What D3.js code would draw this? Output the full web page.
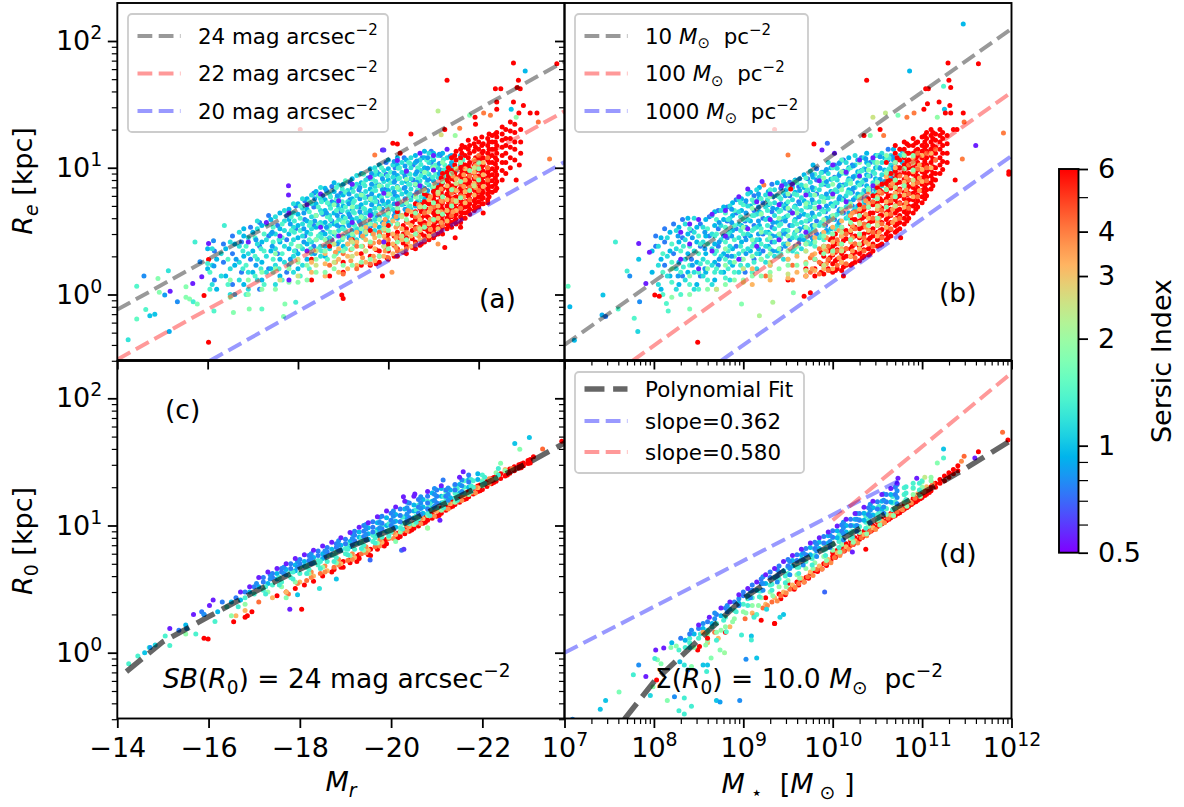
<!DOCTYPE html>
<html>
<head>
<meta charset="utf-8">
<script src="https://cdn.jsdelivr.net/npm/d3@7"></script>
<style>
body { margin: 0; background: #fff; }
text { font-family: "DejaVu Sans", sans-serif; fill: #000; }
</style>
</head>
<body>
<div id="chart"></div>
<script>
// point clouds: each row is [x, R, R, R...] for one Sersic index group
// x is M_r in the left panels and log10(M*) in the right panels

const aPurple = [[-16.9,2.6],[-17.3,3.7],[-17.6,2.9],[-17.8,1.3,4.4],[-18.2,2.2,5.1],[-18.5,3.4,6.2],[-18.9,2.9,5.5],[-19.2,3.7,7.4],[-19.6,4.2,8.4],[-19.9,2.6,6.3],[-20.2,5.2,11.4],[-20.4,9.4],[-20.7,7.2,13],[-21,9.6,12.5],[-21.3,14]];
const aBlue = [[-16.15,1.3,2.2],[-16.35,1.8,2.5],[-16.55,1.2,2.1,2.9],[-16.75,1.5,2.6],[-16.95,1.9,3.4],[-17.15,1.1,2.4,3.7],[-17.35,1.6,2.9,4.2],[-17.55,2.1,3.5],[-17.75,1.5,2.7,4.2],[-17.95,2.2,3.3,5],[-18.15,2.9,3.9,5.5],[-18.35,2.4,3.5,4.9,6.3],[-18.55,3.1,4.3,6],[-18.75,2.7,3.8,5.4,7.1],[-18.95,3.4,4.5,6.3],[-19.15,3,4.1,5.6,7.7],[-19.35,3.8,4.9,6.7],[-19.55,3.3,4.4,5.9,8.3],[-19.75,4.1,5.4,7.3,9.2],[-19.95,3.9,5.1,6.8,8.9,11],[-20.15,4.5,6,8,10],[-20.35,5.2,6.9,9,12],[-20.55,6,8,10.5],[-20.75,7,9.3,12],[-20.95,8.2,11,13.5],[-21.15,9.6,12.5]];
const aBlue2 = [[-16.63,1.9],[-17.07,1.7,2.7],[-17.43,2.4,3.1],[-17.83,1.9,3.6],[-18.13,2.6,3.3,4.4],[-18.37,2.1,3.8,5.7],[-18.63,2.7,3.4,4.4,6.6],[-18.87,2.5,3.5,4.2,5.1,6],[-19.13,2.8,3.5,4.3,5.2,6.2],[-19.37,3.1,3.7,4.5,5.7,7],[-19.63,3.5,4.3,5.1,6.2,7.4,9],[-19.87,3.7,4.7,5.5,6.7,8.2],[-20.13,4.2,5.2,6.4,7.7,9.1,11.2],[-20.37,4.7,5.7,7,8.5,10.3],[-20.63,5.3,6.4,7.7,9.3,11.3],[-20.87,6.6,8,9.9,12],[-21.13,7.3,9,10.8,12.8],[-21.37,8.7,10.3,12.3]];
const aSky = [[-16,1.6,2.3],[-16.2,1.1,1.9],[-16.4,1.4,2.3],[-16.6,1,1.7,2.5],[-16.8,1.2,2,2.9,3.3],[-17,1.5,2.2,3.1],[-17.2,1.3,1.8,2.6,3.5],[-17.4,1.6,2.2,3,3.9],[-17.6,1.4,1.9,2.6,3.3,4.4],[-17.8,1.7,2.3,3,3.9,4.7],[-18,1.6,2.1,2.8,3.5,4.3,5.2],[-18.2,1.9,2.5,3.1,3.8,4.7,5.7],[-18.4,2.2,2.7,3.4,4.2,5.2,6.5],[-18.6,2,2.4,3,3.7,4.6,5.6,6.9],[-18.8,2.5,3,3.6,4.4,5.3,6.5,7.6],[-19,2.4,2.9,3.4,4.1,5,6.1,7.4],[-19.2,2.7,3.2,3.9,4.7,5.7,6.9,8.2],[-19.4,2.9,3.5,4.2,5.1,6.2,7.6,9],[-19.6,3.2,3.8,4.6,5.6,6.8,8.2,9.8],[-19.8,3.4,4.1,5,6,7.3,8.9,10.5],[-20,3.7,4.5,5.4,6.6,8,9.8,11.5],[-20.2,4,4.8,5.9,7.1,8.7,10.5,12],[-20.4,4.4,5.3,6.4,7.8,9.5,11.5],[-20.6,5,6,7.3,8.9,11,12.5],[-20.8,5.7,6.9,8.4,10,12,13.5],[-21,6.5,7.9,9.6,11.5,13],[-21.2,7.6,9.2,11,13],[-21.4,9,11,12.5],[-21.6,10.5,12.5]];
const aCyan = [[-16.1,1.2,1.7,2.3],[-16.3,1.4,2.1],[-16.5,1,1.6,2.6],[-16.7,1.3,1.8,2.4,3.1],[-16.9,1.1,1.5,2.1,2.8],[-17.1,1.3,1.9,2.5,3.3,3.8],[-17.3,1.5,2,2.7,3.6],[-17.5,1.2,1.7,2.3,3,4.1],[-17.7,1.8,2.4,3.2,3.8,4.6],[-17.9,1.5,2,2.7,3.4,4.4,5.2],[-18.1,1.7,2.3,2.9,3.6,4.8,5.7],[-18.3,2.1,2.6,3.3,4.1,5.2,6.1],[-18.5,2,2.4,3,3.7,4.6,5.7,7],[-18.7,2.3,2.8,3.5,4.2,5.1,6.2],[-18.9,2.2,2.6,3.2,3.9,4.8,5.9,7.3],[-19.1,2.5,3,3.7,4.5,5.4,6.6],[-19.3,2.7,3.3,4,4.9,6,7.4,8.7],[-19.5,3,3.6,4.4,5.3,6.5,8],[-19.7,3.2,3.9,4.8,5.8,7.1,8.8,10],[-19.9,3.5,4.3,5.2,6.4,7.8,9.5],[-20.1,3.9,4.7,5.7,6.9,8.4,10.5],[-20.3,4.2,5.1,6.2,7.6,9.2,11],[-20.5,4.7,5.6,6.8,8.2,10,12],[-20.7,5.4,6.5,7.9,9.6,11.5],[-20.9,6,7.3,8.9,11,13],[-21.1,6.9,8.4,10,12.5],[-21.3,8.2,9.8,12],[-21.5,9.5,11.5]];
const aTeal = [[-16.05,1.1,1.5],[-16.45,1.2,1.9],[-16.85,1,1.7,2.4],[-17.05,1.4,2,2.8],[-17.25,1.2,2.2,3],[-17.45,1.5,1.9,2.6,3.4],[-17.65,1.3,2.1,2.8,3.6],[-17.85,1.8,2.5,3.2,4.1],[-18.05,1.4,2.4,3.2,4,5],[-18.25,1.6,2.7,3.5,4.5,5.4],[-18.45,2.3,2.9,3.6,4.9,6],[-18.65,1.9,2.6,3.3,4.1,5.3,6.4],[-18.85,2.1,2.9,3.7,4.6,5.7,7],[-19.05,2.3,3.2,4,4.9,6.4,7.9],[-19.25,2.5,3.5,4.4,5.5,7.1],[-19.45,2.8,3.8,4.8,6,7.5,8.9],[-19.65,3,4.2,5.3,6.5,8.1],[-19.85,3.2,4.6,5.8,7.1,8.7,10],[-20.05,3.6,5,6.2,7.6,9.2],[-20.25,4.2,5.4,6.7,8.3,10],[-20.45,4.9,6,7.4,9,11],[-20.65,5.5,6.7,8.2,10],[-20.85,6.3,7.6,9.2,11.5],[-21.05,7.4,8.9,10.5],[-21.25,8.6,10.5],[-21.45,10,12],[-21.65,11.5]];
const aTeal2 = [[-16.78,1.6,2.2],[-17.18,1.6,2.3],[-17.58,1.6,2.7],[-17.92,2.2,3.1,3.8],[-18.28,2.3,3,3.7],[-18.52,2.2,2.8,3.5,4.4,5.4],[-18.72,2.5,3.1,3.9,4.8,5.9],[-18.98,2.7,3.3,3.8,4.6,5.4,6.8],[-19.22,2.9,3.6,4.5,5.3,6.5],[-19.48,3.2,4,4.7,5.8,7.2],[-19.72,3.6,4.4,5.4,6.6,7.8,9.4],[-19.98,4.1,4.9,6,7.2,8.6],[-20.22,4.5,5.6,6.8,8.2,9.9],[-20.48,5,6.2,7.4,8.9,10.8],[-20.72,5.9,7.2,8.7,10.6],[-20.98,7,8.4,10.2,12],[-21.22,8,9.6,11.6]];
const aMint = [[-16.5,.95,1.3],[-16.9,1,1.3],[-17.2,1.1,1.5],[-17.5,1.1,1.6,2.1],[-17.8,1.25,1.6],[-18,1.25,1.8,2.4],[-18.2,1.3,1.7,2.2],[-18.4,1.5,1.9,2.7,4.2],[-18.6,1.5,2.2,2.7],[-18.8,1.6,2,3.1,5.1],[-19,1.7,2.2,2.8,3.7],[-19.2,1.7,2.3,3,4.9],[-19.4,1.8,2.4,3.3,4.1,6.1],[-19.6,1.9,2.6,3.6,5.7],[-19.8,2,2.9,3.9,4.8,7.2],[-20,2.3,3.2,4.4,6.2],[-20.2,2.6,3.6,4.8,7],[-20.4,2.7,3.9,5.3,8.1],[-20.6,3,4.4,5.9,7.4],[-20.8,3.4,4.9,6.6,9.2],[-21,3.9,5.3,7.1,10],[-21.2,4.3,5.9,7.8,11],[-21.4,5,6.7,9],[-21.6,5.8,7.8,11],[-21.8,6.6,9.5],[-22,8,9.8,11]];
const aLime = [[-17.6,1.3],[-18,1.4,1.9],[-18.4,1.7,2.2],[-18.8,1.8,2.5],[-19.2,2,2.6],[-19.5,2.2,3.1],[-19.9,2.4,3.3],[-20.3,2.9,4.1],[-20.7,3.3,4.9],[-21.1,4.5,6.4],[-21.5,5.5,7.5,9.8],[-21.9,7.2,10]];
const aPeach = [[-18.3,1.5,1.8],[-18.6,1.4,1.75,2.1],[-18.9,1.5,1.9,2.3],[-19.1,1.6,2,2.5],[-19.3,1.7,2.1,2.6,3.1],[-19.5,1.8,2.2,2.7,3.4],[-19.7,1.85,2.3,2.8,3.5],[-19.9,2,2.4,2.9,3.6],[-20.1,2.1,2.5,3,3.8],[-20.3,2.2,2.7,3.3,4.2],[-20.5,2.4,2.9,3.5,4.5],[-20.7,2.7,3.2,3.9,5],[-20.9,2.9,3.6,4.5,5.6],[-21.1,3.3,4,5,6.2],[-21.3,3.8,4.6,5.6,7.2],[-21.5,4.6,5.4,6.6,8.2],[-21.7,5.3,6.5,8,9.8],[-21.9,6.1,7.5,9.2,11.5],[-22.1,7.1,8.8,11]];
const aPeach2 = [[-18.83,1.8,2.15],[-19.17,1.85,2.25,2.7],[-19.43,1.95,2.4,2.9],[-19.67,2,2.55,3],[-19.93,2.2,2.7,3.2,3.9],[-20.17,2.35,2.8,3.4,4.1],[-20.43,2.6,3.05,3.7,4.6],[-20.67,2.9,3.4,4.2,5.1],[-20.93,3.25,3.9,4.8,5.9],[-21.17,3.7,4.5,5.5,6.8],[-21.43,4.5,5.6,6.8,8.6],[-21.67,5.9,7.1,8.8],[-21.93,7,8.4,10.4]];
const aOrange = [[-18.7,1.7],[-19,1.45,2.1],[-19.3,1.6,2.4],[-19.6,1.75,2.5],[-19.8,2,2.6,3.1],[-20,1.95,2.7],[-20.2,2.2,2.9,3.5],[-20.4,2.3,3.1],[-20.6,2.5,3.3,4.1],[-20.8,2.7,3.5,4.4],[-21,3,3.8,4.9],[-21.2,3.5,4.4,5.4],[-21.4,4.2,5.2,6.3],[-21.6,4.8,6,7.4,11],[-21.8,5.6,7,8.6],[-22,6.6,8.2,10,12.5],[-22.2,8,10,12]];
const aRed = [[-18.3,1.3,1.9],[-18.7,1.4,2.4],[-19,1.5,1.8],[-19.2,2.7],[-19.4,1.7,2.1],[-19.6,1.7,2,2.4,3.2],[-19.8,1.8,2.2,2.6,3],[-20,1.9,2.2,2.5,3,3.5],[-20.2,2,2.3,2.7,3.1,3.6,4.5],[-20.4,2.1,2.4,2.8,3.3,3.8,4.3],[-20.6,2.3,2.6,3,3.4,3.9,4.5,5.2],[-20.7,2.45,3.2,3.7,4.8],[-20.8,2.6,2.9,3.3,3.7,4.2,4.8,5.4,6.2],[-20.9,2.7,3.1,3.5,4,4.6,5.2,5.9],[-21,2.8,3.1,3.5,3.9,4.4,5,5.7,6.5],[-21.1,3,3.4,3.8,4.3,4.8,5.4,6.1,7],[-21.2,3,3.4,3.8,4.2,4.7,5.3,6,6.8,7.7,9],[-21.3,3.3,3.6,4,4.5,5,5.6,6.2,7,8,9.2],[-21.4,3.4,3.7,4.1,4.6,5.1,5.7,6.4,7.2,8.2,9.5,12],[-21.5,3.6,3.9,4.3,4.8,5.3,5.9,6.6,7.4,8.4,9.8,11.5,13.5],[-21.6,3.7,4.1,4.5,5,5.5,6.2,6.9,7.7,8.7,10,12,14],[-21.7,4,4.4,4.9,5.4,6,6.6,7.4,8.2,9.3,10.5,12.5,14.5],[-21.8,4.3,4.7,5.2,5.7,6.3,7,7.8,8.7,9.8,11,13,15],[-21.9,4.6,5,5.5,6.1,6.7,7.4,8.2,9.1,10.3,11.5,13.5,15.5],[-22,4.9,5.4,5.9,6.5,7.1,7.8,8.6,9.6,11,12,14,16],[-22.1,5.2,5.8,6.4,7,7.7,8.5,9.4,10.5,12,13.5,15.5],[-22.2,5.6,6.2,6.8,7.5,8.3,9.2,10,11.5,13,15,17],[-22.3,6.4,7.1,7.9,8.8,9.8,11,12.5,14,16,18],[-22.4,6.9,7.8,8.8,10,11.5,13,15,17.5,19],[-22.6,9,11,13,15,17,20],[-22.8,11.5,14,16,19,22]];
const aRed2 = [[-19.73,1.75,2.25],[-19.97,1.95,2.35,2.8],[-20.13,2,2.45,2.9],[-20.33,2.15,2.55,3,3.5],[-20.53,2.35,2.75,3.2,3.7,4.2],[-20.73,2.5,3,3.5,4,4.5,5.1],[-20.87,2.75,3.2,3.6,4.1,4.7,5.3,6],[-21.03,2.95,3.3,3.7,4.2,4.7,5.4,6.1,6.9],[-21.17,3.2,3.6,4,4.5,5,5.7,6.4,7.3,8.3],[-21.33,3.5,3.85,4.3,4.8,5.4,6,6.7,7.6,8.6,10],[-21.47,3.8,4.2,4.6,5.2,5.8,6.5,7.1,8,9,10.5,12.5],[-21.63,4,4.4,4.8,5.3,5.9,6.6,7.3,8.2,9.3,10.7,13,15],[-21.77,4.5,5,5.5,6,6.7,7.4,8.3,9.3,10.4,12,14,16.5],[-21.93,4.8,5.3,5.8,6.3,7,7.7,8.5,9.5,10.7,12,14.5,17],[-22.07,5.2,5.7,6.2,6.9,7.6,8.3,9.2,10.2,11.5,13,15,17.5],[-22.23,5.9,6.5,7.1,7.9,8.7,9.7,11,12.2,14,16,18.5],[-22.37,6.6,7.4,8.3,9.4,10.7,12,14,16,18.5],[-22.52,8,9.5,11,12.5,14.5,16.5,18.5,21],[-22.7,10,12,14.5,17,19.5,23],[-22.93,13,16,20]];
const aExtra = [[-14.24,.44,1.2],[-14.43,.64,1.5],[-14.63,.76,1.4],[-14.72,.68,1],[-14.83,.7,1],[-14.43,1.16,1.4],[-14.59,1.4,.8],[-14.9,1.34,1.8],[-15.13,1.54,1.2],[-14.93,1.04,1.8],[-15.05,.99,.85],[-15.17,1.06,.55],[-15.33,.875,.8],[-15.52,.95,1.8],[-15.6,.92,1.8],[-15.68,.875,1.3],[-15.77,.84,1.7],[-15.15,.51,.9],[-16.14,.74,1.4],[-16.02,.42,6],[-15.92,.98,6],[-15.52,1.15,1.8],[-15.67,1.22,.55],[-15.87,1.38,.55],[-15.72,2.6,1.3],[-16.02,2.53,.55],[-16.13,2.65,.8],[-15.83,1.81,.8],[-16.02,1.89,6],[-16,1.76,1.3],[-16.14,1.68,.85],[-16.57,.72,1.8],[-16.92,.77,1.8],[-17.2,.77,1.5],[-17.71,.84,1.8],[-17.95,.87,1.3],[-17.68,.67,1.8],[-18.97,.99,6],[-19,.93,6],[-17.79,7.2,.55],[-17.79,6.1,.55],[-16.37,3.5,1.3],[-22.77,67,6],[-23.03,58,.95],[-22.88,49,6],[-21.3,49,6],[-22.37,42,6],[-22.49,42,6],[-22.85,43,6],[-22.92,42,6],[-23.73,66,6],[-22.77,33,6],[-22.99,31,6],[-22.4,33,6],[-22.72,29,1],[-22.4,29,6],[-23.14,27,6],[-23.29,27,6],[-22.89,27,6],[-22.83,25,1.9],[-22.11,27,4],[-22.26,26,4],[-21.92,25,6],[-21.93,22,6],[-21.8,26,1.8],[-21.1,28,2.3],[-23.32,23,4.2],[-23.57,11.7,4],[-22.9,10.5,6],[-22.83,8,6],[-22.2,5.3,6],[-22.1,4.4,6],[-21.6,3.4,6],[-21.48,2.8,6],[-21.25,2.35,6],[-21.1,2.5,3.6],[-20.5,18.5,6],[-20.1,15.6,6],[-20.2,15.4,6],[-20.26,13,6],[-21.58,20.5,4],[-21.17,18.2,2.6],[-21.25,20,6],[-21.48,18,2],[-19.87,13.8,.55],[-19.9,13.8,.6],[-19.7,12.6,4],[-19.87,1.4,6],[-20.08,1.5,3.6],[-18.05,20,6]];

const bPurple = [[8.3,1.9,3.1],[8.4,2.5,3.6],[8.5,1.6,3.9],[8.65,2.2,4.3],[8.8,2.9,4.6],[8.95,1.9,5.9],[9.05,3.3,6.8],[9.15,2.4,5.4],[9.3,3.9,6.2],[9.4,2.7,5.1],[9.55,4.4,7.4],[9.7,3.1,6.1],[9.85,4.9,7.9],[10,6.2,10.5],[10.15,5.4,9.2],[10.3,8.6,11.5],[10.45,7.2,12]];
const bBlue = [[8.02,2.4,2.9],[8.12,1.7,2.6,3.3],[8.22,2.1,3.6],[8.32,1.4,2.8,3.9],[8.42,1.9,3.2],[8.52,1.4,2.4,3.6],[8.62,2.9,4.1],[8.72,1.7,2.4,3.3,4.6],[8.82,2,2.8,3.8,4.9],[8.92,2.4,3.3,4.4,5.6],[9.02,1.5,2.9,3.8,5.2],[9.12,1.9,2.6,3.5,4.6,6],[9.22,2.2,3,4,5.3],[9.32,2.6,3.4,4.5,6,7.4],[9.42,2.3,3,3.9,5.2,6.9],[9.52,2.7,3.5,4.6,6,7.7],[9.62,2.5,3.2,4.1,5.4,7.1],[9.72,2.9,3.8,4.9,6.4,8.2],[9.82,3,3.8,4.8,6.2,8,9.8],[9.92,3.5,4.5,5.8,7.4,9.4],[10.02,3.9,5,6.5,8.4,10.5],[10.12,4.4,5.7,7.3,9.4,11.5],[10.22,5,6.4,8.2,10.5],[10.32,5.8,7.4,9.5,12],[10.42,6.7,8.6,11],[10.52,7.7,10,12.5],[10.62,9,11.5,14]];
const bBlue2 = [[8.27,1.4,2.9],[8.43,1.7,2.8],[8.57,1.6,2.3,3.1],[8.73,1.9,2.6,3.7],[8.87,2,2.9,3.7,4.7],[9.03,2.1,2.7,3.4,4.4,5.5],[9.17,2.3,3,3.8,4.9,6.2],[9.33,2.2,2.9,3.7,4.8,5.9],[9.47,2.4,3,3.8,4.8,6,7.4],[9.63,2.7,3.3,4.2,5.2,6.6,8.2],[9.77,2.8,3.5,4.4,5.6,7,8.8],[9.93,3.2,4,5,6.2,7.8,9.7],[10.07,3.7,4.6,5.7,7.1,8.7,10.8],[10.23,4.5,5.6,6.9,8.5,10.3],[10.37,5.2,6.5,8,9.7,11.8],[10.53,6.6,8.1,9.9,12.2],[10.67,8.2,10,12.2]];
const bSky = [[7.98,1.5,2.2],[8.08,1.1,1.9,2.8],[8.18,1.4,2.2,3.1],[8.28,1.2,1.8,2.6,3.4],[8.38,1.5,2.1,3,4],[8.48,1.2,1.8,2.6,3.4],[8.58,1.5,2.1,2.9,3.9],[8.68,1.3,1.8,2.5,3.5,4.5],[8.78,1.5,2.1,2.9,3.9,4.9],[8.88,1.7,2.3,3.2,4.2,5.3],[8.98,1.9,2.6,3.5,4.6,5.7],[9.08,2.2,2.9,3.8,5,6.4],[9.18,2.1,2.7,3.5,4.5,5.8,7],[9.28,2.4,3.1,4,5.1,6.5],[9.38,2.2,2.9,3.7,4.7,6,7.6],[9.48,2.5,3.2,4.1,5.2,6.7],[9.58,2.4,3.1,3.9,5,6.4,8],[9.68,2.7,3.4,4.3,5.5,7,8.8],[9.78,2.6,3.3,4.2,5.3,6.7,8.4,10.5],[9.88,3,3.7,4.7,5.9,7.4,9.2],[9.98,3.3,4.1,5.2,6.5,8.1,10],[10.08,3.8,4.7,5.9,7.3,9,11],[10.18,4.4,5.4,6.7,8.2,10,12],[10.28,5,6.2,7.6,9.3,11.5],[10.38,5.8,7.2,8.8,11,13],[10.48,6.7,8.2,10,12.5],[10.58,7.8,9.6,12],[10.68,9.2,11.5,14],[10.78,11,13.5]];
const bCyan = [[8.05,1.2,1.7,2.4],[8.15,1.4,2,2.8],[8.25,1.1,1.6,2.3,3.2],[8.35,1.3,1.9,2.7,3.6],[8.45,1.1,1.5,2.2,3.1,4],[8.55,1.4,1.9,2.6,3.4],[8.65,1.2,1.7,2.3,3,4.2],[8.75,1.5,2,2.7,3.5,4.6],[8.85,1.3,1.8,2.4,3.1,4,5],[8.95,1.5,2.1,2.8,3.6,4.5,5.6],[9.05,1.7,2.3,3,3.9,5,6.2],[9.15,1.6,2.1,2.7,3.4,4.3,5.5,6.7],[9.25,1.8,2.4,3.1,3.9,4.9,6.1],[9.35,2,2.6,3.3,4.2,5.3,6.7],[9.45,1.9,2.5,3.2,4,5,6.3,7.8],[9.55,2.2,2.8,3.5,4.4,5.6,7],[9.65,2.3,2.9,3.7,4.6,5.8,7.3],[9.75,2.5,3.1,3.9,4.9,6.1,7.7,9.4],[9.85,2.8,3.5,4.3,5.4,6.7,8.4],[9.95,3.1,3.8,4.7,5.8,7.2,9,11],[10.05,3.5,4.3,5.3,6.5,8,9.9],[10.15,4,4.9,6,7.4,9,11],[10.25,4.7,5.8,7,8.6,10.5,12.5],[10.35,5.4,6.6,8,9.8,12],[10.45,6.2,7.6,9.3,11.5],[10.55,7.2,8.8,11,13],[10.65,8.4,10.5,12.5],[10.75,10,12.5]];
const bTeal = [[8.1,1,1.5,2.1],[8.2,1.25,1.8,2.5],[8.3,1,1.5,2.2],[8.4,1.2,1.7,2.4,3.3],[8.5,1.1,1.5,2.1,2.9],[8.6,1.3,1.8,2.5,3.3],[8.7,1.1,1.6,2.2,3,3.9],[8.8,1.35,1.9,2.6,3.4,4.4],[8.9,1.5,2,2.7,3.5,4.6],[9,1.6,2.2,3,3.9,5.1],[9.1,1.5,2.4,3.2,4.2,5.6],[9.2,1.9,2.5,3.3,4.4,5.7],[9.3,1.7,2.3,3,3.9,5.2,6.7],[9.4,2,2.7,3.5,4.5,5.9],[9.5,1.9,2.5,3.2,4.2,5.4,7.1],[9.6,2.1,2.8,3.6,4.7,6.1,7.6],[9.7,2.2,2.9,3.8,4.9,6.4,8.3],[9.8,2.4,3.2,4.1,5.3,6.9,8.9],[9.9,2.7,3.5,4.5,5.8,7.6],[10,3,3.9,5,6.4,8.2,10],[10.1,3.3,4.4,5.6,7.1,9,11.5],[10.2,3.9,5,6.3,8,10],[10.3,4.6,5.8,7.3,9.2,11.5],[10.4,5.5,6.9,8.6,10.5],[10.5,6.4,8,10,12.5],[10.6,7.5,9.4,11.5],[10.7,9,11],[10.8,10.5,13]];
const bTeal2 = [[8.33,1.65,2.4],[8.52,1.75,2.5],[8.68,1.5,2.1,2.9],[8.83,1.6,2.2,3,3.9],[8.97,1.7,2.4,3.2,4.1,5.3],[9.12,1.8,2.5,3.3,4.2,5.3],[9.27,2,2.7,3.5,4.6,5.6],[9.42,2.1,2.8,3.6,4.6,5.7],[9.57,2.3,3,3.8,4.9,6.2,7.8],[9.72,2.6,3.3,4.2,5.3,6.7],[9.87,2.9,3.7,4.7,5.9,7.3,9.1],[10.03,3.3,4.2,5.3,6.7,8.3],[10.17,4.1,5.2,6.4,7.9,9.7],[10.33,5,6.2,7.7,9.5],[10.47,5.9,7.3,9,11],[10.63,7.9,9.8,12]];
const bMint = [[8.2,.95,1.6],[8.4,1,1.4],[8.6,1.1,1.6],[8.8,1.2,1.7,2.3],[8.9,1.3,1.8],[9,1.3,1.9,3.4],[9.1,1.4,2,2.7,4.8],[9.2,1.4,1.9,3.1,4.3],[9.3,1.5,2.1,2.8,5.9],[9.4,1.6,2.3,3,4],[9.5,1.7,2.2,2.9,4.8,6.2],[9.6,1.7,2.4,3.2,4.4],[9.7,1.75,2.5,3.4,5.2,7.2],[9.8,1.9,2.6,3.5,4.8,6.1],[9.9,2.1,2.9,3.9,5.4,8.3],[10,2.2,3,4.2,5.9,7.4],[10.1,2.5,3.4,4.7,6.7,9.3],[10.2,2.7,3.7,5.2,7.5],[10.3,3,4.2,5.9,8.4,11],[10.4,3.5,4.9,6.7,9.6],[10.5,4,5.7,7.7,11],[10.6,4.9,6.7,9.1,12.5],[10.7,5.9,8,11],[10.8,7.2,9.8,12.5],[10.9,9.6,12.5]];
const bLime = [[8.7,1.1],[9,1.25,1.6],[9.3,1.4,1.8],[9.5,1.45,2.5],[9.7,1.55,2.2],[9.9,1.7,2.4],[10.1,2.2,3.1],[10.3,2.5,3.6],[10.5,3.5,5],[10.7,5,7],[10.9,8,11]];
const bPeach = [[9.1,1.2,1.6],[9.3,1.3,1.7],[9.5,1.35,1.9],[9.6,1.5,2],[9.7,1.4,1.8,2.5],[9.8,1.55,2.1,2.8],[9.9,1.6,2.3,3.1],[10,1.6,2.1,2.6,3.4],[10.1,1.8,2.3,2.9,3.8],[10.2,2,2.6,3.2,4.2],[10.3,2.3,2.9,3.7,4.7],[10.4,2.5,3.2,4,5.2,6.5],[10.5,2.9,3.7,4.7,5.9,7.5],[10.6,3.4,4.3,5.4,6.8,8.5],[10.7,3.9,5,6.3,8,10],[10.8,4.9,6.1,7.7,9.8],[10.9,5.9,7.4,9.3,12],[11,7.8,9.7,12.5],[11.1,10,13]];
const bPeach2 = [[9.77,1.6,2.05],[9.93,1.75,2.2,2.8],[10.07,1.95,2.5,3.2],[10.22,2.2,2.8,3.5,4.4],[10.37,2.6,3.4,4.3,5.5],[10.52,3.1,4,5,6.5],[10.67,3.7,4.7,5.9,7.5],[10.82,5.3,6.7,8.4],[10.97,6.6,8.3,10.5]];
const bOrange = [[9.25,1.4],[9.55,1.3,1.7],[9.75,1.5,1.95],[9.85,1.45,1.8,2.3],[9.95,1.55,1.9,2.4],[10.05,1.7,2.2,2.7],[10.15,1.75,2.3,3],[10.25,1.95,2.5,3.3,4.5],[10.35,2.2,2.8,3.6,4.9],[10.45,2.4,3.1,4,5.4],[10.55,2.8,3.6,4.6,6.3],[10.65,3.3,4.3,5.5,7.2],[10.75,4,5.2,6.6,8.6],[10.85,4.8,6.2,8,10.5],[10.95,5.9,7.6,9.8,13],[11.05,7.9,10,13],[11.15,11.5,14]];
const bRed = [[9.5,1.3],[9.7,1.4,1.6],[9.8,1.4,1.6,1.9],[9.9,1.45,1.7,2,2.4],[9.95,1.6,1.85,2.2],[10,1.5,1.75,2.05,2.4,2.8],[10.05,1.6,1.9,2.25,2.6],[10.1,1.55,1.8,2.1,2.5,2.9,3.4],[10.15,1.7,2,2.3,2.75,3.2],[10.2,1.7,2,2.3,2.7,3.1,3.6,4.2],[10.25,1.8,2.15,2.5,2.9,3.4,3.9],[10.3,1.85,2.1,2.4,2.8,3.3,3.8,4.4,5.1],[10.35,2,2.25,2.6,3,3.5,4.1,4.7],[10.4,2.05,2.3,2.7,3.1,3.6,4.2,4.9,5.7],[10.45,2.2,2.5,2.9,3.3,3.8,4.4,5.1,6],[10.5,2.4,2.7,3.1,3.5,4,4.6,5.3,6.1,7],[10.55,2.5,2.85,3.25,3.7,4.2,4.8,5.5,6.4,7.4],[10.6,2.7,3,3.4,3.9,4.4,5,5.7,6.5,7.5,8.6,11],[10.65,2.9,3.25,3.7,4.2,4.7,5.3,6,6.9,7.9,9],[10.7,3.1,3.5,3.9,4.4,5,5.6,6.3,7.2,8.2,9.4,11,13,15],[10.75,3.3,3.7,4.2,4.7,5.3,6,6.8,7.7,8.8,10,11.5,14],[10.8,3.6,4,4.5,5.1,5.7,6.4,7.2,8.1,9.2,10.5,12,14,16],[10.85,4,4.5,5,5.6,6.3,7.1,8,9,10,11.5,13,15],[10.9,4.4,5,5.6,6.3,7,7.9,8.9,10,11.5,13,15,17],[10.95,4.9,5.5,6.1,6.9,7.7,8.6,9.7,11,12.5,14,16],[11,5.3,5.9,6.6,7.4,8.3,9.3,10.5,12,13.5,15,17.5],[11.05,6,6.7,7.5,8.4,9.4,10.5,12,13.5,15,17,19],[11.1,6.8,7.6,8.6,9.7,11,12.5,14,16,18,20],[11.15,8,9,10,11.5,13,14.5,16.5,18.5],[11.2,9,10.5,12,14,16,18,20]];
const bRed2 = [[9.87,1.5,1.75,2.15],[9.97,1.55,1.95,2.3,2.7],[10.03,1.55,1.85,2.15,2.5,3],[10.12,1.65,1.95,2.2,2.65,3.1],[10.22,1.75,2.05,2.4,2.85,3.3,3.9],[10.33,1.95,2.2,2.5,2.95,3.4,4,4.6],[10.42,2.1,2.4,2.8,3.2,3.75,4.4,5.2],[10.53,2.45,2.8,3.2,3.7,4.2,4.9,5.7,6.6],[10.62,2.8,3.15,3.6,4.1,4.6,5.2,6,7,8],[10.72,3.2,3.6,4,4.6,5.2,5.9,6.7,7.6,8.7,10,12],[10.83,3.8,4.3,4.8,5.4,6.1,6.8,7.7,8.7,9.9,11.2,13,15.5],[10.93,4.7,5.2,5.9,6.6,7.4,8.3,9.3,10.7,12,13.7,15.7],[11.03,5.7,6.3,7,7.9,8.8,9.9,11.2,12.7,14.3,16,18],[11.12,7.2,8.1,9.1,10.2,11.7,13.3,15,17,19],[11.23,9.7,11.2,13,15,17,19],[11.28,11,13,15.5,18]];
const bExtra = [[7.04,1.16,1.5],[7.06,.8,.95],[7.11,.435,.95],[7.42,.69,.9],[7.46,.67,.75],[7.43,.99,1],[7.6,.77,1.4],[7.78,.65,1.4],[7.82,.51,1.1],[7.84,.875,.8],[7.57,2.6,1.3],[7.83,2.53,.55],[7.83,1.9,1],[7.7,1.53,1.3],[7.73,1.4,.8],[7.91,1.22,.55],[7.95,2.15,.55],[8.01,.99,6],[8.06,.97,6],[8.14,.85,1.4],[8.16,.74,1.4],[8.49,.42,6],[9.18,.68,2.2],[9.33,.87,2.2],[8.98,.84,1.8],[8.4,.77,1.7],[9.68,.97,6],[9.75,1.03,6],[9.56,1.03,1.8],[9.23,7.3,4],[9.21,7.8,.55],[9.43,7.2,.55],[9.53,6.8,6],[9.5,12.6,4],[9.79,15.4,6],[9.94,15.6,.7],[9.88,13.8,.55],[10.02,13,.55],[10.38,49,6],[10.86,58,.95],[11.46,136,.95],[11.29,67,6],[11.63,66,6],[11.04,42,6],[11.07,42,6],[11.3,49,6],[11.24,44,1.4],[11.32,43,6],[11.25,29,1],[11.19,33,6],[11.06,32,6],[11.02,29,6],[11.31,31,6],[11.26,27,6],[11.32,27,6],[11.46,27,6],[10.91,27,4],[10.83,25,4],[10.59,27,2.4],[10.45,25,2.5],[10.73,26,1.7],[11.17,25,1.9],[11.47,23,4.2],[11.39,20,6],[11.35,20,6],[11.6,15,.55],[11.91,18.8,4],[11.97,9.3,6],[11.97,8.9,6],[11.45,11.7,4],[11.37,8,6],[10.76,2.8,6],[10.12,1.4,6],[10.53,20,6],[10.57,18,4],[10.35,18,6],[10.42,18,1.8],[9.35,20,6]];

const cPurple = [[-16.7,3],[-16.9,3.3],[-17.1,3.9],[-17.3,4.3],[-17.5,4.6],[-17.7,5],[-17.9,5.5],[-18.1,5.9],[-18.3,6.4],[-18.5,6.9],[-18.7,7.4],[-18.9,8],[-19.1,8.8],[-19.3,9.7],[-19.5,10.5],[-19.7,11.7],[-19.9,13],[-20.1,14],[-20.3,15.5],[-20.5,17],[-20.8,18.5],[-21.1,20.5],[-21.5,24]];
const cBlue = [[-15.9,2],[-16.3,2.5],[-16.6,2.7],[-16.8,3],[-17,3.3],[-17.2,3.6,3.9],[-17.4,3.9,4.2],[-17.6,4.3,4.6],[-17.8,4.6,5],[-18,5,5.4],[-18.2,5.3,5.8],[-18.4,5.8,6.3],[-18.6,6.2,6.7],[-18.8,6.7,7.2],[-19,7.2,7.8],[-19.2,7.6,8.4,9],[-19.4,8.2,9,10],[-19.6,8.9,9.7,10.7],[-19.8,9.4,10.4,11.8],[-20,10,11,12.5],[-20.2,10.7,12,13.5],[-20.4,11.5,13,15],[-20.6,12.5,14,16],[-20.8,13.5,15,17],[-21,15,17,19],[-21.2,17,19],[-21.4,19,21],[-21.7,22,25]];
const cBlue2 = [[-17.05,3.5],[-17.35,3.8,4.1],[-17.65,4.2,4.7],[-17.95,4.7,5.2],[-18.25,5,5.5,6],[-18.55,5.7,6.3],[-18.85,6.4,7,7.6],[-19.15,7.1,7.9,8.6],[-19.45,7.7,8.5,9.4,10.2],[-19.75,8.7,9.6,10.6,11.6],[-20.05,9.6,10.6,11.8,13],[-20.35,11,12.3,13.8,15.2],[-20.65,12.2,13.6,15,16.8],[-20.95,14.2,15.8,17.6,19.5],[-21.25,15.8,17.6,19.7],[-21.55,18.5,20.5,22.8]];
const cSky = [[-15.5,1.65],[-16.2,2.1],[-16.5,2.5],[-16.7,2.6],[-16.9,3],[-17.1,3.3],[-17.3,3.5],[-17.5,3.8,4.2],[-17.7,4.1,4.5],[-17.9,4.4,4.9],[-18.1,4.8,5.2],[-18.3,5.1,5.6],[-18.5,5.5,6],[-18.7,5.9,6.5],[-18.9,6.4,7],[-19.1,6.8,7.5],[-19.3,7.3,8.1,8.9],[-19.5,7.8,8.6,9.6],[-19.7,8.4,9.3,10.5],[-19.9,9,10,11.5],[-20.1,9.7,10.8,12.2],[-20.3,10.5,11.7,13.5],[-20.5,11.5,13,14.5],[-20.7,12.5,14,16],[-20.9,13.7,15.5,18],[-21.1,15,17,19.5],[-21.3,16.5,19],[-21.5,18,21],[-21.7,20,23],[-21.9,23,25.5]];
const cTeal = [[-14.25,.82],[-14.45,.94],[-14.7,1.1],[-15.05,1.35],[-15.15,1.14],[-15.72,1.4],[-16.14,1.76],[-16.4,2.3],[-16.8,2.7],[-17,2.9],[-17.2,3.1],[-17.4,3.4],[-17.6,3.6],[-17.8,3.9,4.3],[-18,4.2,4.7],[-18.2,4.5,5],[-18.4,4.9,5.3],[-18.6,5.2,5.8],[-18.8,5.6,6.2],[-19,6,6.6],[-19.2,6.5,7.2],[-19.4,7,7.8],[-19.6,7.5,8.4],[-19.8,8.1,9.1,10],[-20,8.9,9.8,11],[-20.2,9.6,10.7,12],[-20.4,10.3,11.5,13],[-20.6,11.3,12.5,14.5],[-20.8,12.5,13.8,15.5],[-21,13.8,15,17],[-21.2,15,16.5,18.5],[-21.4,16.5,18,20.5],[-21.6,18,20,22.5],[-21.8,20,22.5],[-22,22,25]];
const cTeal2 = [[-16.65,2.3],[-17.25,2.9,3.3],[-17.55,3.4,3.9],[-17.85,3.8,4.3],[-18.15,4.2,4.7],[-18.45,4.6,5.2],[-18.75,5.2,5.8],[-19.05,5.9,6.5,7.1],[-19.35,6.6,7.3,8],[-19.65,7.3,8,8.9],[-19.95,8.3,9.2,10.3],[-20.25,9.4,10.4,11.6],[-20.55,10.6,11.9,13.3],[-20.85,12,13.3,14.8],[-21.15,13.8,15.2,17],[-21.45,15.8,17.4,19.5],[-21.75,18.5,20.5,23],[-22.05,21.5,24],[-22.35,25,28]];
const cMint = [[-15.5,1.4],[-16.5,1.95],[-16.8,2.4],[-17.3,3],[-17.6,3.3],[-17.9,3.6],[-18.2,4.2],[-18.5,4.7],[-18.8,5.1],[-19.1,5.8],[-19.4,6.4],[-19.7,7.3],[-19.95,8.1],[-20.2,8.9],[-20.5,10.2],[-20.8,9.6,12],[-21.1,13.2],[-21.4,15.2],[-21.7,17.5,20],[-22,20.5,22.5],[-22.3,23.5,26],[-22.5,27]];
const cPeach = [[-16.6,1.95],[-16.8,2.15],[-17.4,2.7],[-17.7,3],[-18,3.6],[-18.3,4],[-18.6,4.4],[-18.9,5],[-19.2,5.6],[-19.5,6.4],[-19.8,7.4],[-20.1,8.5],[-20.4,9.8],[-20.7,11.3],[-21,13],[-21.3,14.8],[-21.6,17.2],[-21.9,19.8],[-22.2,23],[-22.5,27.5]];
const cOrange = [[-17.1,2.5],[-17.75,2.9],[-18.15,3.7],[-18.45,4.2],[-18.75,4.7],[-19.05,5.3],[-19.35,6],[-19.65,6.8],[-19.95,7.9],[-20.25,9.1],[-20.55,10.4],[-20.85,11.9],[-21.15,13.5],[-21.45,15.5],[-21.75,18],[-22.05,21.5],[-22.35,25],[-22.65,28]];
const cOrange2 = [[-17.95,3.5],[-18.25,3.9,4.3],[-18.55,4.3,4.8],[-18.85,4.9,5.4],[-19.15,5.4,6],[-19.45,6.1,6.8],[-19.75,6.9,7.7],[-20.05,7.9,8.8],[-20.35,9.1,10],[-20.65,10.3,11.4],[-20.95,11.9,13.1],[-21.25,13.5,15],[-21.55,15.7,17.2],[-21.85,18,20],[-22.15,21.3,23.3]];
const cRed = [[-15.9,1.3],[-15.99,1.28],[-16.55,1.75],[-16.8,1.9],[-16.85,1.95],[-16.95,2.1],[-17.5,2.8],[-17.7,3],[-17.9,3.2],[-18.04,2.2],[-18.1,3.4],[-18.3,3.65],[-18.5,4],[-18.7,4.3],[-18.9,4.7,5],[-19.1,5.1,5.4],[-19.3,5.5,5.9],[-19.5,5.9,6.3],[-19.7,6.5,7],[-19.9,7.2,7.8],[-20.1,7.9,8.5],[-20.2,8.2,8.9],[-20.3,8.6,9.3],[-20.4,9,9.8],[-20.5,9.5,10.3],[-20.6,9.9,10.8],[-20.7,10.4,11.3],[-20.8,11,12],[-20.9,11.4,12.6],[-21,11.8,13],[-21.1,12.5,13.7],[-21.2,13.2,14.4],[-21.3,13.9,15.2],[-21.4,14.6,16],[-21.5,15.2,16.9],[-21.6,16,17.7],[-21.7,16.8,18.6],[-21.8,17.7,19.5],[-21.9,18.5,20.4],[-22,19.2,21.3],[-22.1,20.3,22.3],[-22.2,21.3,23.3],[-22.3,22.3,24.4],[-22.4,23.4,25.5],[-22.5,24.5,26.6],[-22.6,25.7,27.8],[-22.7,27,29],[-22.8,28.2,30],[-22.9,29.5,31],[-23,30.7,32.5],[-23.12,34.7]];
const cRed2 = [[-18.75,4.5],[-18.95,4.7,5.2],[-19.25,5.2,5.7],[-19.55,5.8,6.5],[-19.85,6.9,7.6],[-20.15,8,8.7],[-20.45,9.2,10],[-20.75,10.6,11.6],[-21.05,12,13.3],[-21.35,14.2,15.6],[-21.65,16.2,18],[-21.95,18.8,20.8],[-22.25,21.8,23.8],[-22.55,25,27],[-22.85,28.5,30.5],[-23.05,31,33]];
const cExtra = [[-14.6,1,1],[-14.72,1.1,.85],[-14.83,1.15,1.1],[-15.15,1.55,.55],[-15.35,1.5,.75],[-15.52,1.55,.85],[-15.67,2,.55],[-15.85,2.1,.75],[-16.02,2.35,.55],[-16.1,2.6,.55],[-15.9,2,.8],[-17.78,2.2,.55],[-18.43,3.2,1.2],[-17.95,2.85,1],[-17.7,2.7,1.8],[-18.8,3.8,1],[-19.54,5.35,.7],[-20.23,6.4,.7],[-20.28,6.5,.6],[-20.1,7.5,1.8],[-20.8,9.5,2],[-21.58,26.5,.55],[-21.14,22.8,.75],[-21.07,11,.55],[-20.27,16.8,.55],[-20.52,17.7,.55],[-22.4,30.8,1.8],[-22.71,44.2,1],[-23.03,49.2,1],[-22.82,39.8,1.8],[-23.32,40,4.3],[-23.74,46,6]];

const dPurple = [[8.5,1.65],[8.62,1.9],[8.75,2.25],[8.85,2.5],[8.95,2.85],[9.05,3.2],[9.15,3.6],[9.25,4.1],[9.35,4.6],[9.45,5.2],[9.55,5.8],[9.65,6.5],[9.75,7.3],[9.85,8],[9.95,8.9],[10.05,9.9],[10.15,11.2],[10.25,12.4],[10.35,13.9],[10.45,15.5],[10.55,17.5],[10.65,19.5],[10.72,21.5]];
const dBlue = [[8.3,1.3],[8.4,1.4],[8.5,1.55],[8.6,1.75],[8.7,2],[8.8,2.25],[8.9,2.5],[9,2.8,3],[9.1,3.1,3.4],[9.2,3.5,3.8],[9.3,3.9,4.3],[9.4,4.3,4.8],[9.5,4.8,5.4],[9.6,5.3,5.9],[9.7,5.9,6.6],[9.8,6.6,7.4],[9.9,7.3,8.2],[10,8.1,9.1],[10.1,9,10.1],[10.2,10,11.2],[10.3,11,12.4],[10.4,12.2,13.8],[10.5,13.5,15.4],[10.6,15.3,17.5],[10.7,17.5,20]];
const dBlue2 = [[8.42,1.5],[8.55,1.7],[8.68,1.85,2.05],[8.82,2.1,2.35],[8.95,2.35,2.65],[9.08,2.7,3.05],[9.22,3.1,3.5,3.95],[9.38,3.6,4,4.5],[9.52,4.1,4.6,5.2],[9.67,4.9,5.4,6.1],[9.82,5.7,6.3,7.1],[9.97,6.7,7.5,8.4],[10.12,7.7,8.6,9.6,10.6],[10.27,9,10,11.2,12.4],[10.42,10.5,11.8,13.2,14.7],[10.57,12.5,14,15.8,17.7],[10.72,14.8,16.6,18.8,21]];
const dSky = [[8.2,1.2],[8.35,1.25],[8.45,1.4],[8.55,1.55],[8.65,1.7],[8.75,1.95],[8.85,2.2],[8.95,2.45],[9.05,2.8],[9.15,3.1],[9.25,3.5],[9.35,3.9],[9.45,4.4],[9.55,4.8,5.3],[9.65,5.4,5.9],[9.75,5.9,6.7],[9.85,6.6,7.4],[9.95,7.3,8.3],[10.05,8,9.1],[10.15,8.9,10],[10.25,9.9,11.2],[10.35,11,12.5],[10.45,12.1,13.8],[10.55,13.5,15.5],[10.65,15.3,17.5]];
const dTeal = [[8.28,1.05],[8.4,1.2,1.3],[8.5,1.3],[8.6,1.5],[8.7,1.7],[8.8,1.9],[8.9,2.15],[9,2.4],[9.1,2.7],[9.2,3.05],[9.3,3.4],[9.4,3.8],[9.5,4.2,4.7],[9.6,4.7,5.2],[9.7,5.2,5.8],[9.8,5.8,6.5],[9.9,6.4,7.2],[10,7.1,8],[10.1,7.9,8.9],[10.2,8.8,9.9],[10.3,9.8,11.1],[10.4,11,12.4],[10.5,12.2,13.8],[10.6,13.6,15.4],[10.7,15.4,17.5],[10.8,17.5,19.8],[10.9,19.8,21.5],[11,22.5]];
const dTeal2 = [[8.35,1.1],[8.52,1.4],[8.65,1.6],[8.78,1.8],[8.92,2.1],[9.05,2.35,2.65],[9.18,2.75,3.05],[9.32,3.1,3.45],[9.47,3.55,4],[9.62,4.2,4.7],[9.77,4.9,5.5],[9.92,5.8,6.5],[10.07,6.7,7.5,8.4],[10.22,8.1,9,10],[10.37,9.5,10.6,11.9],[10.52,11.3,12.7,14.2],[10.67,13.3,15,16.9],[10.82,16,18,20.2],[10.97,19,21.5]];
const dMint = [[8.45,1.1],[8.6,1.25,1.4],[8.7,1.45],[8.8,1.6],[8.9,1.85],[9,2.1],[9.1,2.35],[9.2,2.7],[9.3,3],[9.4,3.3],[9.5,3.7],[9.6,4.1],[9.7,4.6],[9.8,5.1],[9.9,5.7],[10,6.4,7.2],[10.1,7.1],[10.2,7.9,8.8],[10.3,8.8],[10.4,9.8,11],[10.5,11],[10.6,12.2,13.5],[10.7,13.7],[10.8,15.4,17.5],[10.9,17.5,19.5],[11,20,22],[11.1,22.5,24]];
const dMint2 = [[8.58,1.15],[8.75,1.5],[8.88,1.75],[9.03,2.05],[9.17,2.35],[9.33,2.8],[9.48,3.3],[9.63,3.85],[9.78,4.6],[9.93,5.3],[10.08,6.2],[10.23,7.4],[10.38,8.6],[10.53,10.1],[10.68,12],[10.83,14.2,15.8],[10.98,17,19]];
const dPeach = [[8.6,1.2],[8.72,1.3],[8.85,1.6],[9.1,2.05],[9.25,2.4],[9.35,2.7],[9.45,3],[9.55,3.4],[9.65,3.85],[9.75,4.3],[9.85,4.8],[9.95,5.4],[10.05,6.1],[10.15,6.8],[10.25,7.6],[10.35,8.5],[10.45,9.6],[10.55,10.8],[10.65,12.1],[10.75,13.8],[10.85,15.5],[10.95,17.8],[11.05,20.2]];
const dOrange = [[8.68,1.45],[9.02,1.85],[9.22,2.25],[9.32,2.5],[9.42,2.8],[9.52,3.15],[9.62,3.5],[9.72,3.95],[9.82,4.5],[9.92,5],[10.02,5.6],[10.12,6.3],[10.22,7.1],[10.32,8],[10.42,9],[10.52,10.1],[10.62,11.4],[10.72,12.8],[10.82,14.5],[10.92,16.4],[11.02,18.5],[11.12,21.5]];
const dOrange2 = [[9.12,1.95],[9.27,2.35],[9.38,2.55],[9.48,2.95],[9.58,3.25],[9.68,3.6],[9.78,4.05],[9.88,4.55],[9.98,5.1],[10.08,5.8],[10.18,6.5],[10.28,7.3],[10.38,8.3],[10.48,9.3],[10.58,10.5],[10.68,11.8],[10.78,13.3],[10.88,15],[10.98,17]];
const dRed = [[8.03,.61],[8.51,1.12],[8.49,1.05],[8.8,1.45],[9.2,1.8],[9.35,1.7],[9.25,2.7],[9.4,2.9],[9.5,3.5],[9.55,3.3],[9.6,3.6],[9.65,3.75],[9.7,3.9],[9.75,4.2],[9.8,4.4],[9.85,4.7],[9.9,5],[9.95,5.2],[10,5.7,6.1],[10.05,5.9,6.4],[10.1,6.3,6.8],[10.15,6.6,7.2],[10.2,7,7.6],[10.25,7.4,8],[10.3,7.8,8.5],[10.35,8.3,9],[10.4,8.8,9.5],[10.45,9.3,10],[10.5,9.8,10.6],[10.55,10.3,11.2],[10.6,10.9,11.8],[10.65,11.5,12.4],[10.7,12,13.1],[10.75,12.6,13.9],[10.8,13.4,14.7],[10.85,14.2,15.5],[10.9,15,16.3],[10.95,15.8,17.2],[11,16.6,18],[11.05,17.6,19],[11.1,18.8,20.2],[11.15,20,21.5],[11.2,21.5,23],[11.25,22.5,24.5],[11.3,24,26],[11.35,25.5,27.5],[11.4,27,29.5]];
const dRed2 = [[9.42,2.65],[9.47,2.85],[9.57,3.15],[9.62,3.4],[9.68,3.6],[9.73,3.85],[9.83,4.35],[9.88,4.55],[9.93,4.85],[9.98,5.3],[10.03,5.6],[10.08,5.95],[10.13,6.3],[10.18,6.75],[10.23,7.1],[10.28,7.6],[10.33,8.05],[10.38,8.6],[10.43,9.05],[10.48,9.55],[10.53,10.1],[10.58,10.7],[10.63,11.2],[10.68,11.8],[10.73,12.4],[10.78,13.1],[10.83,13.8],[10.88,14.6],[10.93,15.4],[10.98,16.2],[11.03,17.2],[11.08,18.2]];
const dExtra = [[11.24,40,1],[11.24,34,1.4],[11.17,31,1.8],[11.47,35,4.3],[11.44,32,3.8],[11.63,38,6],[11.59,34,.55],[11.9,54,4.2],[11.96,47,6],[10.73,23.5,.55],[10.94,23.5,.55],[11.03,24,2.4],[10.37,6.5,6],[10.22,6.2,.55],[9.91,3,.7],[9.45,2,1],[9.41,1.9,1.1],[9.35,1.7,6],[9.26,2.2,1.1],[9.15,2,1.4],[9.12,1.9,1.3],[9.09,1.35,1],[9.09,1.26,1.3],[8.98,1.38,1.3],[8.81,1.46,1.4],[9.15,.91,1],[9.03,.89,.8],[8.74,1.05,1.8],[8.79,1,2],[8.64,.91,1.8],[8.55,.8,1],[8.6,.8,1],[8.59,.71,1.3],[8.38,.73,.8],[8.29,.85,1],[8.34,.8,1.2],[8.42,.78,1.8],[8.23,.45,.8],[8.34,.44,1.3],[8.42,.38,1.3],[8.28,.35,1.3],[8.34,.33,1.3],[8.7,.42,1],[8.74,.41,.85],[8.96,.42,.8],[8.15,.42,1.8],[7.46,.42,1],[7.4,.36,1],[7.61,.49,1.7],[7.09,.3,.8],[7.77,.67,1.3],[7.83,.8,.8],[7.91,.65,.55],[7.96,.46,1.1],[7.99,.54,1.9],[8.04,.88,1.8],[8.01,.9,1.3],[8.08,.82,1.8],[8.02,1.05,.55],[8.11,1.09,.55],[8.19,1.1,1.8],[8.25,1.13,1.8],[8.6,1.3,6],[8.7,1.25,1.3],[8.55,1.45,3.5],[8.4,1.1,1.1]];

// dashed guide lines as [x, R] ends
const sb24 = [[-14,.76],[-23.9,69]];
const sb22 = [[-14,.307],[-23.9,27.9]];
const sb20 = [[-16.05,.3],[-23.9,11.1]];
const sd10 = [[7,.4],[12,125]];
const sd100 = [[7.76,.3],[12,39.4]];
const sd1000 = [[8.75,.3],[12,12.4]];
const fitMag = [[-14.2,.71],[-15,1.22],[-16,1.92],[-17,3],[-18,4.53],[-19,6.6],[-20,9.2],[-21,13.8],[-22,20.8],[-23,31],[-23.8,44.5]];
const fitMass = [[7.67,.3],[8,.59],[8.5,1.26],[9,2.67],[9.5,4.6],[10,7.1],[10.5,11.4],[11,18],[11.25,22.5],[11.5,28.5],[12,47]];
const slope362 = [[7,1],[10.75,22.7]];
const slope580 = [[10,11],[12,158]];

const cbMajor = [.5,1,2,3,4,6];
const cbMinor = [.6,.7,.8,.9,5];
const yMajor = [1,10,100];
const yMinor = [.3,.4,.5,.6,.7,.8,.9,2,3,4,5,6,7,8,9,20,30,40,50,60,70,80,90,200];
const magTicks = [-14,-16,-18,-20,-22];
const massMajor = [1e7,1e8,1e9,1e10,1e11,1e12];
const massMinor = d3.range(7,12).flatMap(e => d3.range(2,10).map(k => k * Math.pow(10,e)));

const tickFont = 27, legendFont = 21.4, noteFont = 26.5;

function rainbow(t) {
    let r = Math.abs(2 * t - 0.5), g = Math.sin(Math.PI * t), b = Math.cos(Math.PI * t / 2);
    return d3.rgb(255 * Math.min(r, 1), 255 * g, 255 * b).formatHex();
}
let nScale = d3.scaleLog().domain([.5, 6]).range([0, 1]);
let sersicColor = n => rainbow(Math.max(0, Math.min(1, nScale(n))));

let svg = d3.select("#chart").append("svg").attr("width", 1184).attr("height", 807).style("display", "block");

// writes mixed text: parts are [string, style] with style from i, sub, isub, sup
function richText(sel, x, y, parts, size) {
    let t = sel.append("text").attr("x", x).attr("y", y).attr("font-size", size);
    let level = 0;
    parts.forEach(p => {
        let want = p[1] === "sub" || p[1] === "isub" ? size * .22 : (p[1] === "sup" ? -size * .42 : 0);
        let s = t.append("tspan").attr("dy", want - level).text(p[0]);
        level = want;
        if (p[1] === "i" || p[1] === "isub") s.attr("font-style", "italic");
        if (p[1] === "sub" || p[1] === "sup" || p[1] === "isub") s.attr("font-size", size * .7);
    });
    return t;
}

function expLabels(g) {
    g.selectAll(".tick text").each(function(d) {
        let t = d3.select(this).attr("font-size", tickFont).attr("fill", "#000").text("10");
        t.append("tspan").attr("dy", -11).attr("font-size", tickFont * .7).text(Math.round(Math.log10(d)));
    });
}

function makePanel(opt) {
    let w = opt.box;
    let x = opt.mass ? d3.scaleLog().domain([1e7, 1e12]).range([w.x0, w.x1])
                     : d3.scaleLinear().domain(opt.xDomain).range([w.x0, w.x1]);
    let y = d3.scaleLog().domain([1, 100]).range([opt.y1, opt.y100]);
    let px = v => opt.mass ? x(Math.pow(10, v)) : x(v);

    let g = svg.append("g");
    let clipId = "clip" + opt.name;
    g.append("clipPath").attr("id", clipId).append("rect")
        .attr("x", w.x0).attr("y", w.y0).attr("width", w.x1 - w.x0).attr("height", w.y1 - w.y0);
    let plot = g.append("g").attr("clip-path", `url(#${clipId})`);

    opt.groups.forEach(gr => {
        let pts = gr[0].flatMap(c => c.slice(1).map(r => [c[0], r]));
        plot.append("g").selectAll("circle").data(pts).join("circle")
            .attr("cx", d => px(d[0])).attr("cy", d => y(d[1])).attr("r", 2.5)
            .attr("fill", sersicColor(gr[1]));
    });
    plot.append("g").selectAll("circle").data(opt.extra).join("circle")
        .attr("cx", d => px(d[0])).attr("cy", d => y(d[1])).attr("r", 2.5)
        .attr("fill", d => sersicColor(d[2]));

    let line = d3.line().x(d => px(d[0])).y(d => y(d[1]));
    opt.lines.forEach(l => {
        plot.append("path").attr("d", line(l.data)).attr("fill", "none")
            .attr("stroke", l.color).attr("stroke-opacity", l.alpha)
            .attr("stroke-width", l.width).attr("stroke-dasharray", `${l.width * 3.7},${l.width * 1.6}`);
    });

    // ticks
    let xAxis = d3.axisBottom(x).tickValues(opt.mass ? massMajor : magTicks).tickSize(9.5).tickSizeOuter(0).tickPadding(10);
    if (!opt.mass) xAxis.tickFormat(d => "\u2212" + Math.abs(d));
    let xg = g.append("g").attr("transform", `translate(0,${w.y1})`).call(xAxis);
    xg.select(".domain").remove();
    xg.selectAll("line").attr("stroke-width", 1.8);
    if (opt.xLabels) {
        xg.selectAll("text").attr("font-size", tickFont).attr("fill", "#000");
        if (opt.mass) expLabels(xg);
    } else {
        xg.selectAll("text").remove();
    }
    if (opt.mass) {
        let xm = g.append("g").attr("transform", `translate(0,${w.y1})`)
            .call(d3.axisBottom(x).tickValues(massMinor).tickSize(5.5).tickSizeOuter(0).tickFormat(""));
        xm.select(".domain").remove();
        xm.selectAll("line").attr("stroke-width", 1.2);
    }
    let yg = g.append("g").attr("transform", `translate(${w.x0},0)`)
        .call(d3.axisLeft(y).tickValues(yMajor).tickSize(9.5).tickSizeOuter(0).tickPadding(5.5));
    yg.select(".domain").remove();
    yg.selectAll("line").attr("stroke-width", 1.8);
    if (opt.yLabels) expLabels(yg); else yg.selectAll("text").remove();
    let ym = g.append("g").attr("transform", `translate(${w.x0},0)`)
        .call(d3.axisLeft(y).tickValues(yMinor.filter(v => y(v) > w.y0)).tickSize(5.5).tickSizeOuter(0).tickFormat(""));
    ym.select(".domain").remove();
    ym.selectAll("line").attr("stroke-width", 1.2);

    g.append("rect").attr("x", w.x0).attr("y", w.y0).attr("width", w.x1 - w.x0).attr("height", w.y1 - w.y0)
        .attr("fill", "none").attr("stroke", "#000").attr("stroke-width", 1.9);

    if (opt.legend) drawLegend(g, opt.legend);
}

function drawLegend(g, lg) {
    g.append("rect").attr("x", lg.x).attr("y", lg.y).attr("width", lg.w).attr("height", lg.h).attr("rx", 4)
        .attr("fill", "#fff").attr("fill-opacity", .8).attr("stroke", "#ccc").attr("stroke-width", 1.8);
    lg.rows.forEach((r, i) => {
        let ry = lg.rowY[i];
        g.append("line").attr("x1", lg.x + 9.5).attr("x2", lg.x + 52.5).attr("y1", ry).attr("y2", ry)
            .attr("stroke", r.color).attr("stroke-opacity", r.alpha).attr("stroke-width", r.width)
            .attr("stroke-dasharray", `${r.width * 3.7},${r.width * 1.6}`);
        richText(g, lg.x + 70, ry + 7.5, r.text, legendFont);
    });
}

const gray = {color: "#000", alpha: .4, width: 4};
const pink = {color: "#f00", alpha: .4, width: 4};
const lilac = {color: "#00f", alpha: .4, width: 4};
const dark = {color: "#000", alpha: .6, width: 5.4};
const sunPc = [["M", "i"], ["\u2299", "sub"], ["\u00A0 pc"], ["\u22122", "sup"]];
let magRow = s => [[s + " mag arcsec"], ["\u22122", "sup"]];
let massRow = s => [[s + " "]].concat(sunPc);

const leftX = {x0: 117.3, x1: 564.5}, rightX = {x0: 564.5, x1: 1011.5};

makePanel({name: "a", box: {...leftX, y0: 3, y1: 360}, xDomain: [-14, -23.9], y1: 294.5, y100: 41,
    groups: [[aBlue,.75],[aSky,.95],[aCyan,1.15],[aTeal,1.4],[aBlue2,.85],[aTeal2,1.3],[aRed,6],[aRed2,6],[aPeach,3.2],[aOrange,4.2],[aPeach2,3.6],[aMint,1.85],[aLime,2.5],[aPurple,.55]],
    extra: aExtra, yLabels: true,
    lines: [{...gray, data: sb24}, {...pink, data: sb22}, {...lilac, data: sb20}],
    legend: {x: 128, y: 14, w: 260, h: 118, rowY: [36, 73.5, 111],
        rows: [{...gray, text: magRow("24")}, {...pink, text: magRow("22")}, {...lilac, text: magRow("20")}]}});

makePanel({name: "b", box: {...rightX, y0: 3, y1: 360}, mass: true, y1: 294.5, y100: 41,
    groups: [[bBlue,.75],[bSky,.95],[bCyan,1.15],[bTeal,1.4],[bBlue2,.85],[bTeal2,1.3],[bRed,6],[bRed2,6],[bPeach,3.2],[bOrange,4.2],[bPeach2,3.6],[bMint,1.85],[bLime,2.5],[bPurple,.55]],
    extra: bExtra,
    lines: [{...gray, data: sd10}, {...pink, data: sd100}, {...lilac, data: sd1000}],
    legend: {x: 575, y: 14, w: 233, h: 118, rowY: [36, 73.5, 111],
        rows: [{...gray, text: massRow("10")}, {...pink, text: massRow("100")}, {...lilac, text: massRow("1000")}]}});

makePanel({name: "c", box: {...leftX, y0: 361, y1: 718.5}, xDomain: [-14, -23.8], y1: 652.7, y100: 398.3,
    groups: [[cRed,6],[cRed2,6],[cOrange,4.2],[cPeach,3.2],[cOrange2,3.8],[cMint,1.9],[cTeal,1.35],[cSky,.95],[cTeal2,1.3],[cBlue,.75],[cBlue2,.8],[cPurple,.55]],
    extra: cExtra, xLabels: true, yLabels: true,
    lines: [{...dark, data: fitMag}]});

makePanel({name: "d", box: {...rightX, y0: 361, y1: 718.5}, mass: true, y1: 652.7, y100: 398.3,
    groups: [[dRed,6],[dRed2,6],[dOrange,4.2],[dPeach,3.2],[dOrange2,3.8],[dMint,1.9],[dMint2,1.9],[dTeal,1.35],[dTeal2,1.3],[dSky,.95],[dBlue,.75],[dBlue2,.8],[dPurple,.55]],
    extra: dExtra, xLabels: true,
    lines: [{...lilac, data: slope362}, {...pink, data: slope580}, {...dark, data: fitMass}],
    legend: {x: 575, y: 372, w: 229, h: 101, rowY: [389, 421, 452],
        rows: [{...dark, text: [["Polynomial Fit"]]}, {...lilac, text: [["slope=0.362"]]}, {...pink, text: [["slope=0.580"]]}]}});

// panel notes
[["(a)", 479, 308], ["(b)", 939, 302], ["(c)", 165, 419], ["(d)", 939, 563]].forEach(n => {
    svg.append("text").attr("x", n[1]).attr("y", n[2]).attr("font-size", noteFont).text(n[0]);
});
richText(svg, 163, 688, [["SB", "i"], ["("], ["R", "i"], ["0", "sub"], [") = 24 mag arcsec"], ["\u22122", "sup"]], noteFont);
richText(svg, 655, 688, [["\u03A3("], ["R", "i"], ["0", "sub"], [") = 10.0 "], ["M", "i"], ["\u2299", "sub"], ["\u00A0 pc"], ["\u22122", "sup"]], noteFont);

// axis titles
richText(svg, 0, 0, [["R", "i"], ["e", "isub"], [" [kpc]"]], tickFont).attr("text-anchor", "middle").attr("transform", "translate(32,181) rotate(-90)");
richText(svg, 0, 0, [["R", "i"], ["0", "sub"], [" [kpc]"]], tickFont).attr("text-anchor", "middle").attr("transform", "translate(32,541) rotate(-90)");
richText(svg, 341, 791, [["M", "i"], ["r", "isub"]], tickFont).attr("text-anchor", "middle");
richText(svg, 788, 793, [["M", "i"], ["\u00A0\u22C6", "sub"], ["\u00A0 ["], ["M", "i"], ["\u00A0\u2299", "sub"], ["\u00A0]"]], tickFont).attr("text-anchor", "middle");

// colorbar
let cb = svg.append("g");
let cbY = d3.scaleLog().domain([.5, 6]).range([552.7, 169]);
let grad = cb.append("linearGradient").attr("id", "cbGrad").attr("x1", 0).attr("x2", 0).attr("y1", 1).attr("y2", 0);
grad.selectAll("stop").data(d3.range(0, 1.001, .05)).join("stop")
    .attr("offset", d => d * 100 + "%").attr("stop-color", d => rainbow(d));
cb.append("rect").attr("x", 1059).attr("y", 169).attr("width", 19.5).attr("height", 383.7).attr("fill", "url(#cbGrad)");
let cbAxis = cb.append("g").attr("transform", "translate(1078.5,0)")
    .call(d3.axisRight(cbY).tickValues(cbMajor).tickSize(9.5).tickSizeOuter(0).tickPadding(10).tickFormat(d3.format("")));
cbAxis.select(".domain").remove();
cbAxis.selectAll("line").attr("stroke-width", 1.8);
cbAxis.selectAll("text").attr("font-size", tickFont).attr("fill", "#000");
let cbMinorAxis = cb.append("g").attr("transform", "translate(1078.5,0)")
    .call(d3.axisRight(cbY).tickValues(cbMinor).tickSize(9.5).tickSizeOuter(0).tickFormat(""));
cbMinorAxis.select(".domain").remove();
cbMinorAxis.selectAll("line").attr("stroke-width", 1.2);
cb.append("rect").attr("x", 1059).attr("y", 169).attr("width", 19.5).attr("height", 383.7)
    .attr("fill", "none").attr("stroke", "#000").attr("stroke-width", 1.9);
svg.append("text").attr("transform", "translate(1171,361) rotate(-90)").attr("text-anchor", "middle")
    .attr("font-size", tickFont).text("Sersic Index");
</script>
</body>
</html>
